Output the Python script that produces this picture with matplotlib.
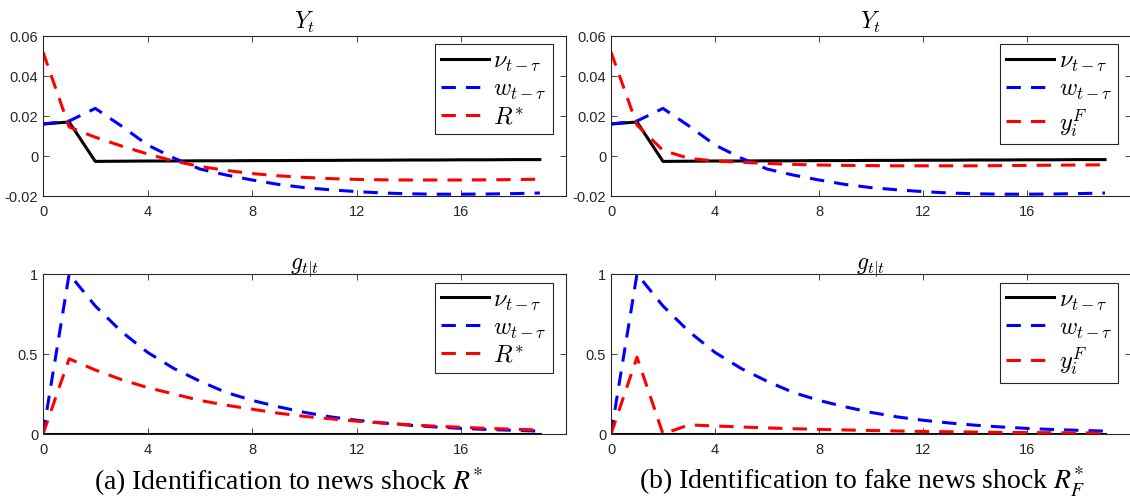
import numpy as np
import matplotlib
matplotlib.use('Agg')
from matplotlib import pyplot as plt

plt.rcParams['font.family'] = ['Liberation Sans', 'DejaVu Sans']
plt.rcParams['mathtext.fontset'] = 'cm'
plt.rcParams['axes.unicode_minus'] = False

# horizon
t = np.arange(20)

# Y_t responses (same for both identifications except the third series)
y_nu = [0.016, 0.017, -0.0027, -0.0026, -0.0025, -0.0025, -0.0024, -0.0024, -0.0023, -0.0023,
        -0.0022, -0.0022, -0.0021, -0.0021, -0.0020, -0.0020, -0.0019, -0.0019, -0.0018, -0.0018]
y_w = [0.016, 0.0175, 0.0238, 0.015, 0.0055, -0.001, -0.0065, -0.0095, -0.012, -0.0142,
       -0.0158, -0.0169, -0.0178, -0.0185, -0.0189, -0.0191, -0.0191, -0.019, -0.0188, -0.0185]
y_r = [0.052, 0.0145, 0.0094, 0.005, 0.001, -0.0025, -0.0052, -0.0072, -0.0088, -0.0099,
       -0.0107, -0.0113, -0.0117, -0.0119, -0.012, -0.012, -0.012, -0.0119, -0.0118, -0.0116]
y_f = [0.052, 0.0155, 0.0028, -0.0012, -0.0025, -0.0031, -0.0037, -0.0042, -0.0045, -0.0047,
       -0.0048, -0.0049, -0.0049, -0.0049, -0.0049, -0.0048, -0.0047, -0.0046, -0.0045, -0.0044]

# g_{t|t} responses
g_nu = [0.0] * 20
g_w = [0.0, 1.0, 0.80, 0.64, 0.51, 0.41, 0.33, 0.26, 0.21, 0.17,
       0.135, 0.107, 0.086, 0.069, 0.055, 0.044, 0.035, 0.028, 0.023, 0.018]
g_r = [0.0, 0.47, 0.40, 0.34, 0.29, 0.25, 0.21, 0.18, 0.155, 0.13,
       0.11, 0.095, 0.08, 0.068, 0.058, 0.049, 0.042, 0.035, 0.03, 0.025]
g_f = [0.0, 0.48, 0.0, 0.057, 0.05, 0.044, 0.038, 0.033, 0.029, 0.025,
       0.022, 0.019, 0.016, 0.014, 0.012, 0.010, 0.009, 0.008, 0.007, 0.006]

labels_a = [r'$\nu_{t-\tau}$', r'$w_{t-\tau}$', r'$R^{*}$']
labels_b = [r'$\nu_{t-\tau}$', r'$w_{t-\tau}$', r'$y_i^F$']
captions = [r'(a) Identification to news shock $R^{*}$',
            r'(b) Identification to fake news shock $R^{*}_{F}$']

W, H = 1130, 502
fig = plt.figure(figsize=(W / 100, H / 100), dpi=100)

dash = (0, (4.7, 3.3))
spine_c = '#262626'


def make_ax(left, top, right, bottom):
    return fig.add_axes([left / W, 1 - bottom / H, (right - left) / W, (bottom - top) / H])


def style(ax, yticks, ylim, ylabels):
    ax.set_xlim(0, 20)
    ax.set_ylim(*ylim)
    ax.set_xticks([0, 4, 8, 12, 16])
    ax.set_yticks(yticks)
    ax.set_yticklabels(ylabels)
    ax.tick_params(direction='in', top=True, right=True, length=4, width=0.6,
                   colors=spine_c, labelsize=10.5, labelcolor='#262626')
    ax.tick_params(axis='x', pad=6)
    for s in ax.spines.values():
        s.set_color(spine_c)
        s.set_linewidth(0.8)


def draw(ax, s1, s2, s3, labels, legend_top):
    ax.plot(t, s1, color='black', lw=2.2, label=labels[0])
    ax.plot(t, s2, color='#0000ff', lw=2.2, ls=dash, label=labels[1])
    ax.plot(t, s3, color='#ff0000', lw=2.2, ls=dash, label=labels[2])
    leg = ax.legend(loc='upper right', bbox_to_anchor=(0.975, legend_top), fontsize=17.5,
                    frameon=True, fancybox=False, framealpha=1, edgecolor=spine_c,
                    handlelength=1.95, handletextpad=0.2, borderpad=0.25, labelspacing=0.2,
                    borderaxespad=0)
    leg.get_frame().set_linewidth(0.8)


cols = [(43, 566), (611, 1131)]
ysets = [(y_r, labels_a, g_r), (y_f, labels_b, g_f)]
cap_x = [288, 862]

for (l, r), (y3, labs, g3), cap, cx in zip(cols, ysets, captions, cap_x):
    ax1 = make_ax(l, 37, r, 197)
    draw(ax1, y_nu, y_w, y3, labs, 0.95)
    style(ax1, [-0.02, 0, 0.02, 0.04, 0.06], (-0.02, 0.06), ['-0.02', '0', '0.02', '0.04', '0.06'])
    ax1.set_title(r'$Y_t$', fontsize=17, pad=6)

    ax2 = make_ax(l, 275, r, 435)
    draw(ax2, g_nu, g_w, g3, labs, 0.945)
    style(ax2, [0, 0.5, 1], (0, 1), ['0', '0.5', '1'])
    ax2.set_title(r'$g_{t|t}$', fontsize=17, pad=4)

    fig.text(cx / W, 1 - 482 / H, cap, ha='center', va='center',
             fontsize=20, family='Liberation Serif', math_fontfamily='stix')

fig.savefig('out.png', dpi=100)
